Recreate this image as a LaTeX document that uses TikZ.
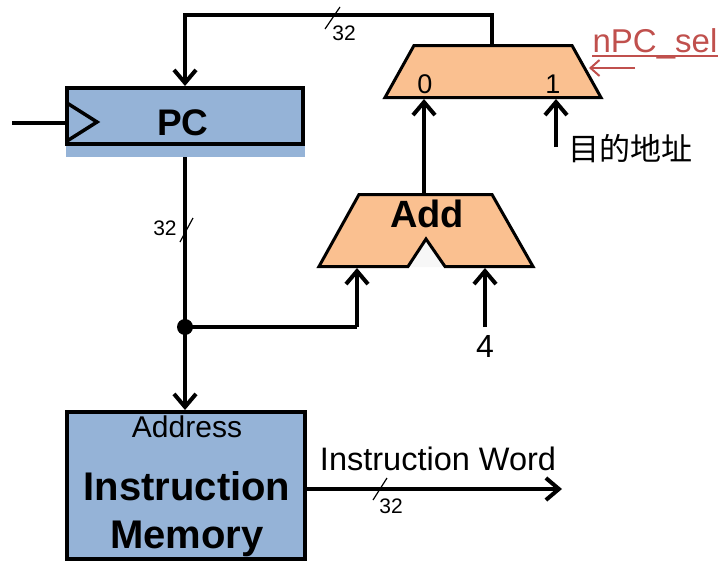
\documentclass[tikz,border=0pt]{standalone}
\usepackage{fontspec}
\setmainfont{Liberation Sans}
\newfontfamily\cjk{Noto Sans CJK SC}
\usetikzlibrary{arrows.meta}
\definecolor{boxblue}{HTML}{95B3D7}
\definecolor{muxpeach}{HTML}{FAC090}
\definecolor{selred}{HTML}{C0504D}
\begin{document}
\begin{tikzpicture}[x=1pt,y=-1pt,
  wire/.style={line width=4pt},
  arr/.style={wire,-{Straight Barb[length=13pt,width=22pt]}},
  redarr/.style={line width=2pt,selred,-{Straight Barb[length=9pt,width=16pt]}},
  slash/.style={line width=1.2pt},
  boxstyle/.style={draw,line width=4pt,fill=boxblue,inner sep=0pt},
  shapestyle/.style={draw,line width=3pt,fill=muxpeach,line join=miter},
  txt/.style={inner sep=0pt,anchor=base},
  bigbold/.style={txt,font=\fontsize{40}{42}\selectfont\bfseries},
  small/.style={txt,font=\fontsize{21}{23}\selectfont},
  mid/.style={txt,font=\fontsize{30}{32}\selectfont}
]
\useasboundingbox (0,0) rectangle (726,570);

% PC register
\fill[boxblue] (66,146) rectangle (305,157);
\node[boxstyle,minimum width=236pt,minimum height=56pt] (pc) at (185,116) {};
\node[txt,font=\fontsize{37}{40}\selectfont\bfseries] (pclabel) at (183,135) {PC};
\draw[line width=3.5pt,line join=miter] (67,103) -- (97,122) -- (67,141);
\coordinate (clkin) at (12,123);
\coordinate (pcclk) at (67,123);
\draw[wire] (clkin) -- (pcclk);
\coordinate (pctop) at (185,86);
\coordinate (pcbot) at (185,157);

% Instruction memory
\node[boxstyle,minimum width=238pt,minimum height=147pt] (imem) at (186,485.5) {};
\node[mid] (addr) at (187,437) {Address};
\node[bigbold] (instr) at (187,500) {Instruction};
\node[bigbold] (memory) at (187,548) {Memory};
\coordinate (imemtop) at (185,410);
\coordinate (imemout) at (305,489);
\coordinate (iwend) at (562,489);

% Mux
\draw[shapestyle] (414,45.5) -- (572,45.5) -- (601,97.5) -- (385,97.5) -- cycle;
\node[txt,font=\fontsize{27}{29}\selectfont] (mux0) at (425,93) {0};
\node[txt,font=\fontsize{27}{29}\selectfont] (mux1) at (553,93) {1};
\coordinate (muxout) at (492,45.5);
\coordinate (muxin0) at (424,99);
\coordinate (muxin1) at (556,99);
\coordinate (muxsel) at (589,68);

% Adder
\fill[gray!6] (446,267) -- (426,239) -- (407,267) -- cycle;
\draw[shapestyle] (359,194.5) -- (492,194.5) -- (533,266.5) -- (445,266.5)
   -- (426,239) -- (408,266.5) -- (319,266.5) -- cycle;
\node[txt,font=\fontsize{38}{40}\selectfont\bfseries] (addlabel) at (427,227) {Add};
\coordinate (addout) at (424,194.5);
\coordinate (addinA) at (357,268);
\coordinate (addinB) at (485,268);

% wires
\coordinate (topR) at (492,15);
\coordinate (topL) at (185,15);
\draw[wire,line join=miter] (muxout) -- (topR) -- (topL) -- (185,30);
\draw[arr] (topL) -- (pctop);
\coordinate (junc) at (185,327);
\draw[wire] (pcbot) -- (junc);
\draw[arr] (junc) -- (imemtop);
\coordinate (juncR) at (357,327);
\draw[wire] (junc) -- (juncR);
\draw[arr] (juncR) -- (addinA);
\fill (junc) circle (8pt);
\coordinate (fourpt) at (485,327);
\draw[arr] (fourpt) -- (addinB);
\node[txt,font=\fontsize{32}{34}\selectfont] (four) at (485,357) {4};
\draw[arr] (addout) -- (muxin0);
\coordinate (targetpt) at (556,147);
\draw[arr] (targetpt) -- (muxin1);
\node[inner sep=0pt,anchor=west,font=\cjk\fontsize{31}{33}\selectfont] (target) at (568,149) {目的地址};
\draw[arr] (imemout) -- (iwend);
\node[txt,font=\fontsize{32.5}{34}\selectfont] (iword) at (438,470) {Instruction Word};

% nPC_sel
\node[txt,font=\fontsize{33}{35}\selectfont,text=selred] (npcsel) at (655,52) {nPC\_sel};
\draw[line width=2pt,selred] ([yshift=-4pt]npcsel.base west) -- ([yshift=-4pt]npcsel.base east);
\coordinate (selstart) at (635,68);
\draw[redarr] (selstart) -- (muxsel);

% bus width marks
\draw[slash] (325,29) -- (340,7);
\node[small] (w1) at (344,40) {32};
\draw[slash] (180,242) -- (193,218);
\node[small] (w2) at (165,235) {32};
\draw[slash] (373,500) -- (387,478);
\node[small] (w3) at (391,513) {32};
\end{tikzpicture}
\end{document}
